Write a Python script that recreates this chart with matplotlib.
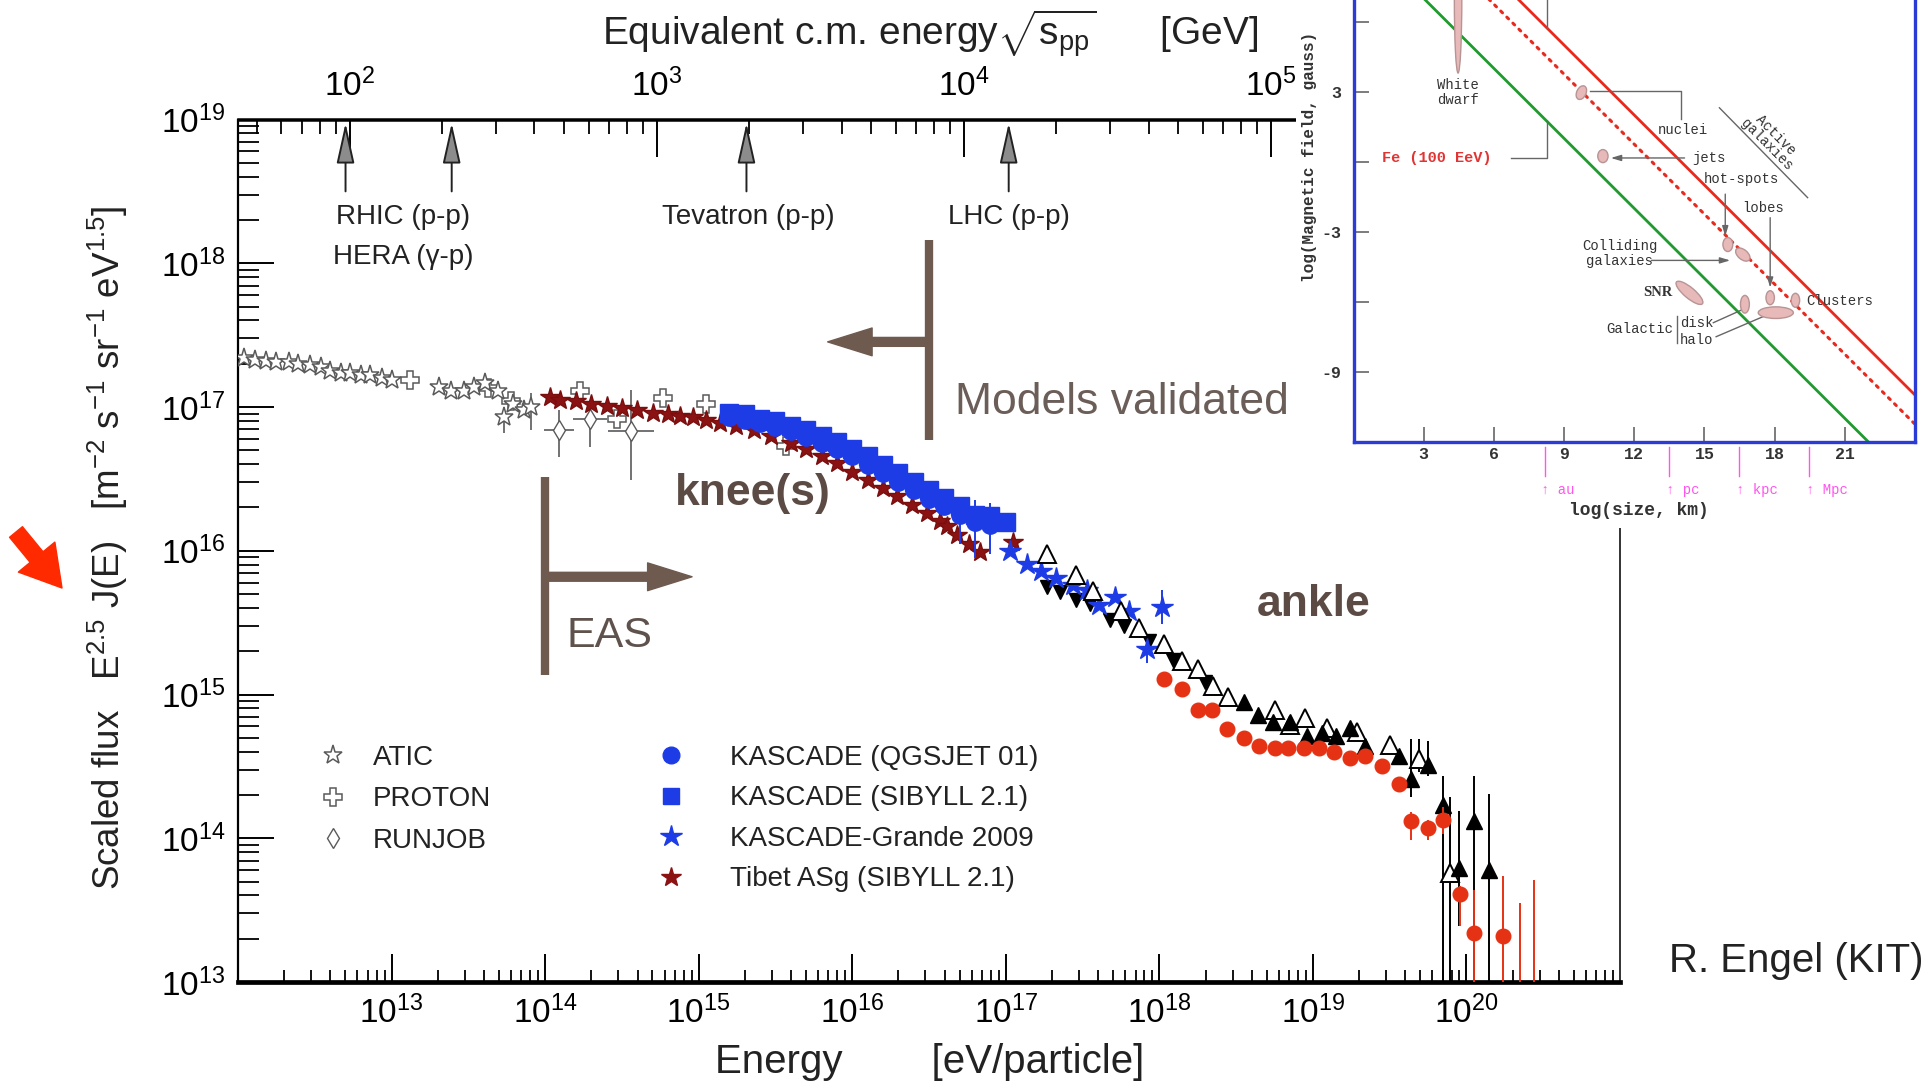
import numpy as np
import matplotlib
matplotlib.use("Agg")
import matplotlib.pyplot as plt
from matplotlib.lines import Line2D
from matplotlib.patches import Ellipse, Rectangle, FancyArrowPatch
from matplotlib.ticker import LogLocator, FixedLocator, NullFormatter, LogFormatterSciNotation
from matplotlib.transforms import blended_transform_factory

plt.rcParams["font.family"] = ["Liberation Sans", "DejaVu Sans"]
plt.rcParams["mathtext.fontset"] = "custom"
plt.rcParams["mathtext.rm"] = "Liberation Sans"
plt.rcParams["mathtext.it"] = "Liberation Sans:italic"
plt.rcParams["mathtext.bf"] = "Liberation Sans:bold"
plt.rcParams["axes.unicode_minus"] = False

# ---------------- cosmic-ray spectrum: log10(E / eV) and log10(E^2.5 J(E)) ----------------
atic_logE = [12.04, 12.11, 12.18, 12.25, 12.33, 12.39, 12.47, 12.54, 12.60, 12.67, 12.73,
             12.80, 12.86, 12.94, 13.00, 13.31, 13.39, 13.47, 13.54, 13.61, 13.69, 13.73,
             13.79, 13.86, 13.91]
atic_logF = [17.34, 17.33, 17.32, 17.31, 17.31, 17.30, 17.29, 17.28, 17.25, 17.24, 17.24,
             17.22, 17.22, 17.20, 17.19, 17.14, 17.11, 17.11, 17.14, 17.17, 17.11, 16.93,
             17.02, 16.98, 17.00]
atic_dhi = [0.01] * 21 + [0.07, 0.01, 0.01, 0.10]
atic_dlo = [0.01] * 21 + [0.11, 0.01, 0.01, 0.16]

proton_logE = [13.12, 13.63, 13.78, 14.23, 14.47, 14.77, 15.05, 15.57]
proton_logF = [17.19, 17.13, 17.04, 17.11, 16.92, 17.06, 17.02, 16.73]

runjob_logE = [14.09, 14.29, 14.56]
runjob_logF = [16.84, 16.92, 16.83]
runjob_dhi = [0.14, 0.07, 0.29]
runjob_dlo = [0.19, 0.20, 0.34]
runjob_dE = [0.10, 0.11, 0.15]

tibet_logE = [14.03, 14.10, 14.20, 14.30, 14.40, 14.50, 14.60, 14.70, 14.80, 14.88, 14.96,
              15.05, 15.14, 15.24, 15.36, 15.47, 15.60, 15.70, 15.80, 15.90, 16.00, 16.10,
              16.20, 16.29, 16.39, 16.49, 16.57, 16.62, 16.68, 16.76, 16.83, 17.05]
tibet_logF = [17.07, 17.05, 17.04, 17.02, 17.01, 16.99, 16.98, 16.96, 16.95, 16.94, 16.93,
              16.91, 16.89, 16.87, 16.84, 16.80, 16.75, 16.71, 16.66, 16.61, 16.55, 16.49,
              16.44, 16.38, 16.32, 16.26, 16.21, 16.17, 16.11, 16.05, 15.99, 16.06]

qgs_logE = [15.2, 15.3, 15.4, 15.5, 15.6, 15.7, 15.8, 15.9, 16.0, 16.1, 16.2, 16.3, 16.4,
            16.5, 16.6, 16.7, 16.8, 16.9]
qgs_logF = [16.93, 16.91, 16.89, 16.86, 16.83, 16.79, 16.75, 16.71, 16.66, 16.60, 16.54,
            16.48, 16.42, 16.36, 16.31, 16.25, 16.20, 16.18]
qgs_dhi = [0.02] * 15 + [0.05, 0.15, 0.15]
qgs_dlo = [0.02] * 15 + [0.20, 0.25, 0.20]

sib_logE = [15.2, 15.3, 15.4, 15.5, 15.6, 15.7, 15.8, 15.9, 16.0, 16.1, 16.2, 16.3, 16.4,
            16.5, 16.6, 16.7, 16.8, 16.9, 17.0]
sib_logF = [16.96, 16.95, 16.92, 16.90, 16.87, 16.84, 16.80, 16.76, 16.71, 16.66, 16.60,
            16.54, 16.48, 16.42, 16.37, 16.31, 16.25, 16.24, 16.20]

grande_logE = [17.03, 17.14, 17.23, 17.33, 17.44, 17.53, 17.61, 17.71, 17.80, 17.92, 18.02]
grande_logF = [16.00, 15.91, 15.86, 15.81, 15.76, 15.73, 15.62, 15.68, 15.58, 15.32, 15.61]
grande_dhi = [0.03] * 9 + [0.10, 0.12]
grande_dlo = [0.03] * 9 + [0.10, 0.12]

down_logE = [17.27, 17.35, 17.46, 17.55, 17.68, 17.77, 17.93, 18.09, 18.30]
down_logF = [15.75, 15.71, 15.66, 15.63, 15.52, 15.48, 15.37, 15.24, 15.09]

open_logE = [17.27, 17.46, 17.57, 17.75, 17.87, 18.03, 18.15, 18.25, 18.35, 18.45, 18.75,
             18.85, 18.95, 19.09, 19.29, 19.50, 19.69, 19.89]
open_logF = [15.98, 15.83, 15.72, 15.58, 15.46, 15.35, 15.23, 15.18, 15.06, 14.98, 14.89,
             14.79, 14.84, 14.77, 14.74, 14.65, 14.55, 13.76]
open_dhi = [0.03] * 16 + [0.14, 0.53]
open_dlo = [0.03] * 16 + [0.09, 0.90]

tri_logE = [18.55, 18.64, 18.74, 18.85, 18.96, 19.06, 19.15, 19.24, 19.34, 19.56, 19.64,
            19.75, 19.85, 19.95, 20.05, 20.15]
tri_logF = [14.95, 14.86, 14.81, 14.81, 14.71, 14.73, 14.71, 14.77, 14.64, 14.57, 14.41,
            14.51, 14.23, 13.79, 14.12, 13.78]
tri_dhi = [0.03] * 10 + [0.28, 0.17, 0.20, 0.40, 0.31, 0.53]
tri_dlo = [0.03] * 10 + [0.12, 0.08, 1.30, 0.40, 1.20, 0.90]

red_logE = [18.03, 18.15, 18.25, 18.34, 18.44, 18.55, 18.65, 18.75, 18.84, 18.94, 19.04,
            19.14, 19.24, 19.34, 19.45, 19.56, 19.64, 19.75, 19.85, 19.96, 20.05, 20.24,
            20.35, 20.44]
red_logF = [15.11, 15.04, 14.89, 14.89, 14.76, 14.70, 14.64, 14.63, 14.63, 14.63, 14.63,
            14.60, 14.56, 14.57, 14.50, 14.38, 14.12, 14.07, 14.13, 13.61, 13.34, 13.32,
            12.50, 12.50]
red_dhi = [0.03] * 16 + [0.06, 0.06, 0.09, 0.06, 0.30, 0.42, 1.05, 1.21]
red_dlo = [0.03] * 16 + [0.13, 0.08, 0.10, 0.22, 0.50, 0.50, 0.00, 0.00]

# collider energies (sqrt(s) in GeV) marked on the upper axis
collider_sqrts = [97, 215, 1960, 14000]

x_major_exp = list(range(13, 21))
y_major_exp = list(range(13, 20))
top_major = [1e2, 1e3, 1e4, 1e5]

# ---------------- Hillas diagram: log10(size / km) vs log10(B / gauss) ----------------
hillas_logR = [-1.0, 25.0]
green_logB = [11.0, -15.0]
red_logB = [15.0, -11.0]
red_dot_logB = [13.75, -12.25]
inset_xticks = [3, 6, 9, 12, 15, 18, 21]
inset_yticks = [-9, -3, 3]
inset_yminor = [-6, 0, 6, 9]
unit_logkm = [8.17, 13.49, 16.49, 19.49]
unit_names = ["au", "pc", "kpc", "Mpc"]
# objects: x, y, width, height, angle
hillas_objects = [
    (4.47, 7.0, 0.32, 6.4, 0),
    (9.74, 2.96, 0.40, 0.62, -25),
    (10.66, 0.24, 0.44, 0.56, 0),
    (16.0, -3.55, 0.42, 0.60, 0),
    (16.64, -3.98, 0.72, 0.42, -40),
    (14.36, -5.62, 1.45, 0.46, -40),
    (16.73, -6.11, 0.38, 0.76, 0),
    (17.81, -5.83, 0.36, 0.60, 0),
    (18.05, -6.47, 1.50, 0.50, 0),
    (18.89, -5.94, 0.36, 0.60, 0),
]

W, H, DPI = 1932, 1089, 100


def lin(v):
    return np.power(10.0, np.asarray(v, dtype=float))


def yerr(logF, dlo, dhi):
    f = lin(logF)
    lo = f - lin(np.asarray(logF) - np.asarray(dlo))
    hi = lin(np.asarray(logF) + np.asarray(dhi)) - f
    return np.vstack([lo, hi])


def e_to_sqrts(E):
    return np.sqrt(np.clip(1.876e-9 * np.asarray(E, dtype=float), 1e-300, None))


def sqrts_to_e(s):
    return np.asarray(s, dtype=float) ** 2 / 1.876e-9


def fp(x, y):
    return (x / W, 1 - y / H)


fig = plt.figure(figsize=(W / DPI, H / DPI), dpi=DPI)
fig.patch.set_facecolor("white")

L, R, T, B = 238, 1620, 119.5, 982
ax = fig.add_axes([L / W, 1 - B / H, (R - L) / W, (B - T) / H])
ax.set_xscale("log")
ax.set_yscale("log")
ax.set_xlim(1e12, 1e21)
ax.set_ylim(1e13, 1e19)

ax.xaxis.set_major_locator(FixedLocator(lin(x_major_exp)))
ax.xaxis.set_minor_locator(LogLocator(base=10, subs=np.arange(2, 10), numticks=30))
ax.xaxis.set_minor_formatter(NullFormatter())
ax.yaxis.set_major_locator(FixedLocator(lin(y_major_exp)))
ax.yaxis.set_minor_locator(LogLocator(base=10, subs=np.arange(2, 10), numticks=30))
ax.yaxis.set_minor_formatter(NullFormatter())
ax.xaxis.set_major_formatter(LogFormatterSciNotation())
ax.yaxis.set_major_formatter(LogFormatterSciNotation())

ax.spines["bottom"].set_linewidth(3.4)
ax.spines["left"].set_linewidth(1.6)
ax.spines["top"].set_linewidth(1.8)
ax.spines["right"].set_linewidth(1.4)
ax.spines["right"].set_color("#333333")
ax.tick_params(which="both", direction="in", top=False, right=False)
ax.tick_params(axis="y", which="major", length=26, width=1.4, labelsize=24, pad=9)
ax.tick_params(axis="y", which="minor", length=15, width=1.3)
ax.tick_params(axis="x", which="major", length=20, width=1.4, labelsize=24, pad=10)
ax.tick_params(axis="x", which="minor", length=9, width=1.3)

sec = ax.secondary_xaxis("top", functions=(e_to_sqrts, sqrts_to_e))
sec.xaxis.set_major_locator(FixedLocator(top_major))
sec.xaxis.set_minor_locator(LogLocator(base=10, subs=np.arange(2, 10), numticks=30))
sec.xaxis.set_minor_formatter(NullFormatter())
sec.xaxis.set_major_formatter(LogFormatterSciNotation())
sec.tick_params(which="both", direction="in")
sec.tick_params(which="major", length=27, width=1.4, labelsize=24, pad=12)
sec.tick_params(which="minor", length=11, width=1.3)
sec.spines["top"].set_linewidth(1.8)

gray = "#5a5a5a"
blue = "#1e3ce6"

# ---------------- data series ----------------
ax.errorbar(lin(atic_logE), lin(atic_logF), yerr=yerr(atic_logF, atic_dlo, atic_dhi),
            fmt="*", ms=14, mfc="white", mec=gray, mew=1.1, ecolor=gray, elinewidth=1.2, zorder=3)
ax.plot(lin(proton_logE), lin(proton_logF), "P", ms=13, mfc="white", mec=gray, mew=1.1, zorder=3)
rE = lin(runjob_logE)
ax.errorbar(rE, lin(runjob_logF), yerr=yerr(runjob_logF, runjob_dlo, runjob_dhi),
            xerr=np.vstack([rE - lin(np.asarray(runjob_logE) - runjob_dE),
                            lin(np.asarray(runjob_logE) + runjob_dE) - rE]),
            fmt="d", ms=10, mfc="white", mec=gray, mew=1.0, ecolor=gray, elinewidth=1.2, zorder=3)
ax.plot(lin(tibet_logE), lin(tibet_logF), "*", ms=15, color="#8b1212", mec="#7a0e0e", zorder=4)
ax.errorbar(lin(qgs_logE), lin(qgs_logF), yerr=yerr(qgs_logF, qgs_dlo, qgs_dhi), fmt="o",
            ms=12.5, color=blue, ecolor=blue, elinewidth=1.4, zorder=5)
ax.plot(lin(sib_logE), lin(sib_logF), "s", ms=12.5, color=blue, zorder=5)
ax.errorbar(lin(grande_logE), lin(grande_logF), yerr=yerr(grande_logF, grande_dlo, grande_dhi),
            fmt="*", ms=16, color=blue, ecolor=blue, elinewidth=1.4, zorder=6)
ax.plot(lin(down_logE), lin(down_logF), "v", ms=10.5, color="black", zorder=6)
ax.errorbar(lin(open_logE), lin(open_logF), yerr=yerr(open_logF, open_dlo, open_dhi), fmt="^",
            ms=12.5, mfc="white", mec="black", mew=1.4, ecolor="black", elinewidth=1.4, zorder=6)
ax.errorbar(lin(tri_logE), lin(tri_logF), yerr=yerr(tri_logF, tri_dlo, tri_dhi), fmt="^",
            ms=11.5, color="black", ecolor="black", elinewidth=1.4, zorder=6)
ax.errorbar(lin(red_logE), lin(red_logF), yerr=yerr(red_logF, red_dlo, red_dhi), fmt="o",
            ms=10.5, color="#e63214", ecolor="#e63214", elinewidth=1.4, zorder=7)

# ---------------- collider markers ----------------
for s in collider_sqrts:
    e = sqrts_to_e(s)
    ax.annotate("", xy=(e, 10 ** 18.975), xytext=(e, 10 ** 18.50),
                arrowprops=dict(arrowstyle="-|>,head_length=0.9,head_width=0.2",
                                lw=1.4, ec="#222222", fc="#8c8c8c", mutation_scale=28,
                                shrinkA=0, shrinkB=0), zorder=8)
fig.text(*fp(403, 217), "RHIC (p-p)", fontsize=20, ha="center", va="center", color="#222")
fig.text(*fp(403, 257), "HERA (\u03b3-p)", fontsize=20, ha="center", va="center", color="#222")
fig.text(*fp(748, 217), "Tevatron (p-p)", fontsize=20, ha="center", va="center", color="#222")
fig.text(*fp(1009, 217), "LHC (p-p)", fontsize=20, ha="center", va="center", color="#222")

# ---------------- energy ranges ----------------
brown = "#6e5a4f"
ax.plot([1e14, 1e14], [10 ** 15.137, 10 ** 16.514], color=brown, lw=6, solid_capstyle="butt", zorder=2)
ax.add_patch(FancyArrowPatch((1e14, 10 ** 15.819), (10 ** 14.957, 10 ** 15.819),
                             arrowstyle="simple,head_length=0.8,head_width=0.5,tail_width=0.16",
                             mutation_scale=40, color=brown, shrinkA=0, shrinkB=0, zorder=2))
ax.plot([10 ** 16.5, 10 ** 16.5], [10 ** 16.771, 10 ** 18.162], color=brown, lw=6,
        solid_capstyle="butt", zorder=2)
ax.add_patch(FancyArrowPatch((10 ** 16.5, 10 ** 17.453), (10 ** 15.84, 10 ** 17.453),
                             arrowstyle="simple,head_length=0.8,head_width=0.5,tail_width=0.16",
                             mutation_scale=40, color=brown, shrinkA=0, shrinkB=0, zorder=2))

fig.text(*fp(955, 402), "Models validated", fontsize=32, color="#6b5d57", va="center", ha="left")
fig.text(*fp(567, 636), "EAS", fontsize=31, color="#5f524c", va="center", ha="left")
fig.text(*fp(675, 493), "knee(s)", fontsize=32, color="#5b4b44", weight="bold", va="center", ha="left")
fig.text(*fp(1257, 604), "ankle", fontsize=32, color="#5b4b44", weight="bold", va="center", ha="left")
fig.text(*fp(1669, 961), "R. Engel (KIT)", fontsize=29, color="#222", va="center", ha="left")

# ---------------- axis titles ----------------
fig.text(*fp(108, 548), r"Scaled flux   E$^{2.5}$ J(E)   [m$^{-2}$ s$^{-1}$ sr$^{-1}$ eV$^{1.5}$]",
         rotation=90, fontsize=26.5, ha="center", va="center", color="#222")
fig.text(*fp(930, 1062), "Energy        [eV/particle]", fontsize=29, ha="center", va="center",
         color="#222")
fig.text(*fp(930, 34), r"Equivalent c.m. energy$\sqrt{\mathrm{s}_{\mathrm{pp}}}$      [GeV]",
         fontsize=28, ha="center", va="center", color="#222")

# red pointer next to the flux label
fig.add_artist(FancyArrowPatch(fp(16, 532), fp(62, 588), transform=fig.transFigure,
                               arrowstyle="simple,head_length=0.72,head_width=0.85,tail_width=0.3",
                               mutation_scale=40, color="#ff2a00", shrinkA=0, shrinkB=0))

# ---------------- legends ----------------
h1 = [Line2D([], [], ls="none", marker="*", ms=14, mfc="white", mec=gray, mew=1.1),
      Line2D([], [], ls="none", marker="P", ms=13, mfc="white", mec=gray, mew=1.1),
      Line2D([], [], ls="none", marker="d", ms=10, mfc="white", mec=gray, mew=1.0)]
leg1 = ax.legend(h1, ["ATIC", "PROTON", "RUNJOB"], loc="upper left",
                 bbox_to_anchor=fp(319, 745), bbox_transform=fig.transFigure, frameon=False,
                 fontsize=20, handlelength=1.0, handletextpad=0.95, labelspacing=0.55,
                 borderpad=0, borderaxespad=0, labelcolor="#222")
ax.add_artist(leg1)
h2 = [Line2D([], [], ls="none", marker="o", ms=12, color=blue),
      Line2D([], [], ls="none", marker="s", ms=12, color=blue),
      Line2D([], [], ls="none", marker="*", ms=16, color=blue),
      Line2D([], [], ls="none", marker="*", ms=15, color="#8b1212")]
ax.legend(h2, ["KASCADE (QGSJET 01)", "KASCADE (SIBYLL 2.1)", "KASCADE-Grande 2009",
               "Tibet ASg (SIBYLL 2.1)"], loc="upper left",
          bbox_to_anchor=fp(657, 745), bbox_transform=fig.transFigure, frameon=False,
          fontsize=20, handlelength=1.0, handletextpad=1.62, labelspacing=0.52,
          borderpad=0, borderaxespad=0, labelcolor="#222")

# ---------------- Hillas diagram ----------------
fig.add_artist(Rectangle(fp(1296, 528), (W - 1296) / W, 528 / H, transform=fig.transFigure,
                         facecolor="white", edgecolor="none", zorder=5))
axi = fig.add_axes([1353.5 / W, 1 - 441.7 / H, 561.5 / W, 560 / H])
axi.set_zorder(10)
axi.set_xlim(0, 24)
axi.set_ylim(-12, 12)
for sp in axi.spines.values():
    sp.set_color("#2b3bd6")
    sp.set_linewidth(2.4)
axi.xaxis.set_major_locator(FixedLocator(inset_xticks))
axi.yaxis.set_major_locator(FixedLocator(inset_yticks))
axi.yaxis.set_minor_locator(FixedLocator(inset_yminor))
axi.tick_params(which="both", direction="in", colors="#666", labelcolor="#333",
                length=11, width=1.2, labelsize=12)
axi.tick_params(axis="y", pad=9)
axi.tick_params(axis="x", pad=4)
for lab in axi.get_xticklabels() + axi.get_yticklabels():
    lab.set_fontfamily("Liberation Mono")
    lab.set_fontweight("bold")

axi.plot(hillas_logR, green_logB, color="#1f9a2e", lw=2.0)
axi.plot(hillas_logR, red_logB, color="#e82a1e", lw=2.0)
axi.plot(hillas_logR, red_dot_logB, color="#e82a1e", lw=2.2, ls=(0, (0.8, 2.0)),
         dash_capstyle="round")

for (x, y, w, h, a) in hillas_objects:
    axi.add_patch(Ellipse((x, y), w, h, angle=a, facecolor="#e7b9b9", edgecolor="#b89494", lw=1.0,
                          zorder=4))

lc = "#666666"
mono = dict(fontfamily="Liberation Mono", color="#333333", fontsize=10)
axi.plot([10.1, 13.99, 13.99], [3.03, 3.03, 1.83], color=lc, lw=1.0)
axi.plot([6.75, 8.25, 8.25], [0.17, 0.17, 1.75], color=lc, lw=1.0)
axi.plot([8.25, 8.25], [5.75, 8.5], color=lc, lw=1.0)
axi.plot([15.64, 19.41], [2.31, -1.54], color=lc, lw=1.0)
axi.plot([13.81, 13.81], [-6.61, -7.76], color=lc, lw=1.0)
axi.plot([15.38, 16.6], [-6.9, -6.35], color=lc, lw=1.0)
axi.plot([15.5, 17.6], [-7.5, -6.6], color=lc, lw=1.0)
for (x0, y0, x1, y1) in [(14.15, 0.16, 11.0, 0.16), (15.89, -1.39, 15.89, -3.2),
                         (17.81, -2.40, 17.81, -5.4), (12.73, -4.23, 16.1, -4.23)]:
    axi.annotate("", xy=(x1, y1), xytext=(x0, y0),
                 arrowprops=dict(arrowstyle="-|>,head_length=0.5,head_width=0.15", color=lc,
                                 lw=1.0, shrinkA=0, shrinkB=0, mutation_scale=12))

axi.text(4.47, 2.98, "White\ndwarf", ha="center", va="center", linespacing=1.1, **mono)
axi.text(14.08, 1.34, "nuclei", ha="center", va="center", **mono)
axi.text(1.2, 0.17, "Fe (100 EeV)", ha="left", va="center", fontfamily="Liberation Mono",
         color="#e03535", fontsize=11, weight="bold")
axi.text(14.5, 0.16, "jets", ha="left", va="center", **mono)
axi.text(16.57, -0.76, "hot-spots", ha="center", va="center", **mono)
axi.text(17.49, -1.97, "lobes", ha="center", va="center", **mono)
axi.text(11.37, -3.93, "Colliding\ngalaxies", ha="center", va="center", linespacing=1.1, **mono)
axi.text(17.85, 0.95, "Active\ngalaxies", ha="center", va="center", rotation=-45,
         linespacing=1.0, rotation_mode="anchor", **mono)
axi.text(13.01, -5.62, "SNR", ha="center", va="center", fontfamily="Liberation Serif",
         weight="bold", fontsize=10.5, color="#333")
axi.text(19.34, -5.99, "Clusters", ha="left", va="center", **mono)
axi.text(12.23, -7.18, "Galactic", ha="center", va="center", **mono)
axi.text(14.68, -6.9, "disk", ha="center", va="center", **mono)
axi.text(14.68, -7.66, "halo", ha="center", va="center", **mono)

bt = blended_transform_factory(axi.transData, axi.transAxes)
pink = "#ff55ee"
for xv, name in zip(unit_logkm, unit_names):
    axi.plot([xv, xv], [-0.01, -0.062], color=pink, lw=1.0, transform=bt, clip_on=False)
    axi.text(xv - 0.15, -0.086, "\u2191 " + name, transform=bt, ha="left", va="center",
             fontfamily=["Liberation Mono", "DejaVu Sans Mono"], color=pink, fontsize=10,
             clip_on=False)
axi.text(12.2, -0.122, "log(size, km)", transform=bt, ha="center", va="center",
         fontfamily="Liberation Mono", weight="bold", fontsize=13, color="#333", clip_on=False)
axi.text(-0.0775, 0.285, "log(Magnetic field, gauss)", transform=axi.transAxes, rotation=90,
         ha="center", va="bottom", fontfamily="Liberation Mono", weight="bold", fontsize=11.5,
         color="#333", clip_on=False)

fig.savefig("out.png", dpi=DPI)
